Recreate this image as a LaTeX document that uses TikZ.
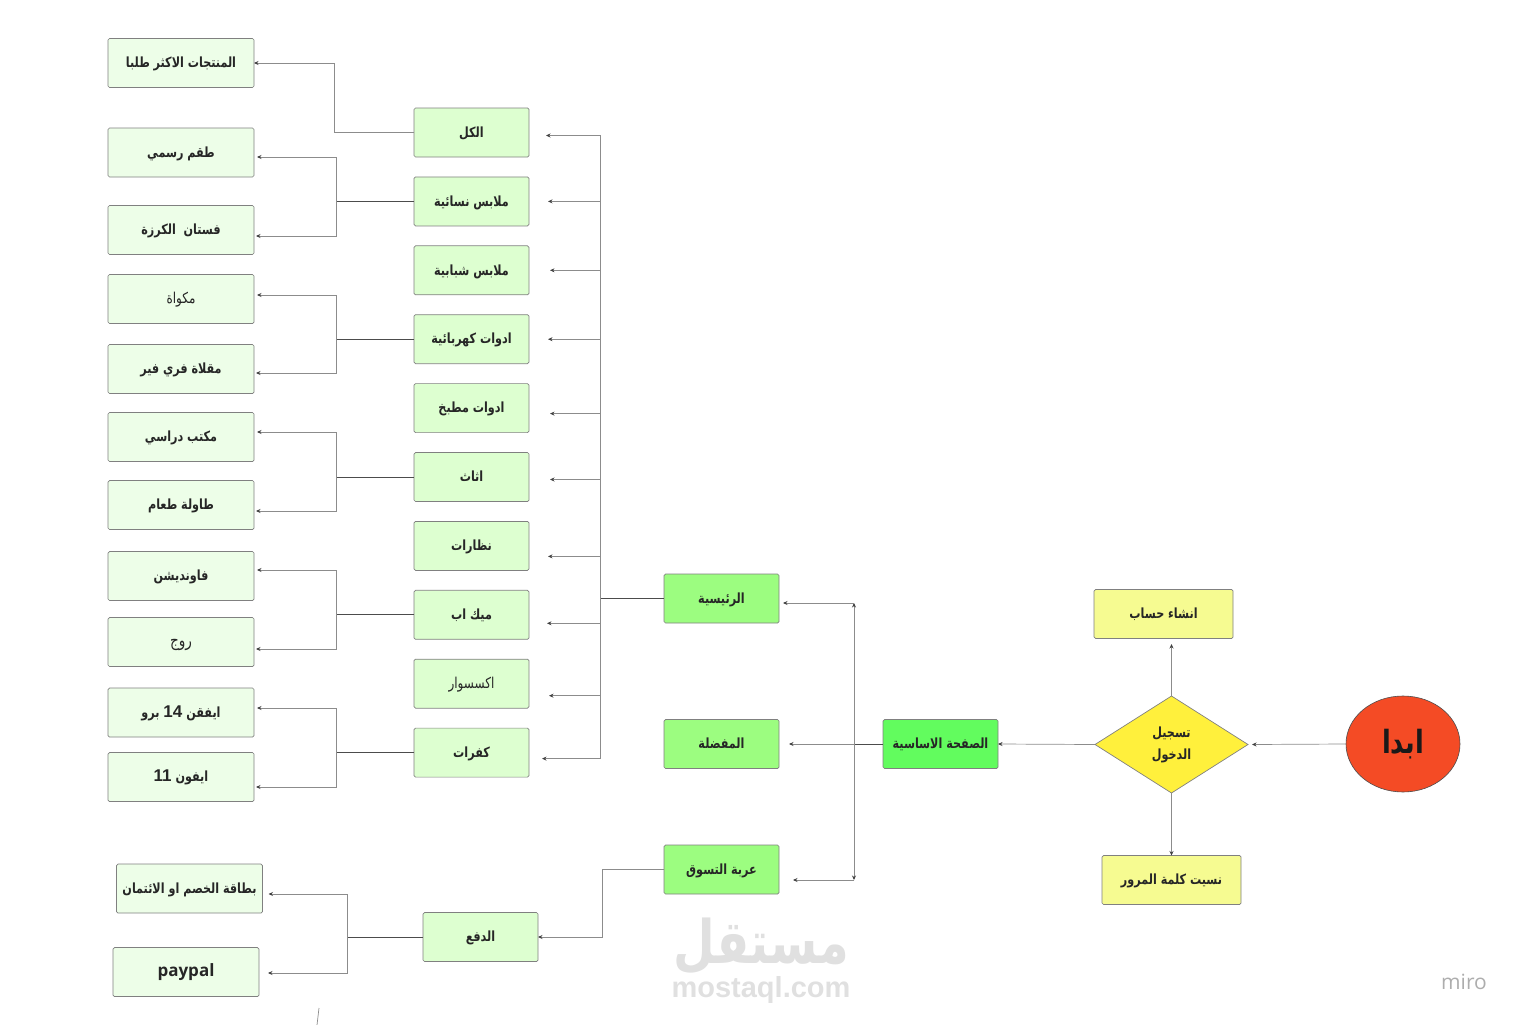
\documentclass[tikz,border=0pt]{standalone}
\usepackage{fontspec}
\setmainfont{Open Sans}
\newfontfamily\arabicfont[Script=Arabic, FakeStretch=0.8]{DejaVu Sans}
\newfontfamily\latinfont{Liberation Sans}
\TeXXeTstate=1
\newcommand{\ArText}[1]{{\arabicfont\beginR #1\endR}}
\newcommand{\ArNum}[1]{\beginL{\latinfont\fontsize{17}{20}\selectfont #1}\endL{}}
\usetikzlibrary{arrows.meta, positioning, shapes.geometric}

\begin{document}
\begin{tikzpicture}[x=1pt, y=-1pt]
		\tikzstyle{Box} = [rectangle, rounded corners=1.5pt, text centered, draw=black!50, line width=0.7pt, outer sep=0pt, inner sep=1pt, font=\bfseries\fontsize{14}{17}\selectfont, text=black!85]
		\tikzstyle{Flat} = [Box, minimum height=49pt, text height=11.5pt, text depth=2pt]
		\tikzstyle{Leaf} = [Flat, minimum width=146pt, fill=leafgreen]
		\tikzstyle{Cat} = [Flat, minimum width=115pt, fill=catgreen]
		\tikzstyle{Main} = [Flat, minimum width=115pt, fill=maingreen]
		\tikzstyle{Note} = [Flat, minimum width=139pt, fill=noteyellow]
		\tikzstyle{Thin} = [font=\fontsize{15}{18}\selectfont]
		\tikzstyle{line} = [line width=0.7pt, draw=black!45]
		\tikzstyle{stem} = [line width=0.8pt, draw=black!70]
		\tikzstyle{arrow} = [line width=0.7pt, draw=black!45, ->, >={Stealth[length=4.5pt, width=4pt, black!75]}]
		\definecolor{leafgreen}{HTML}{EDFEE8}
		\definecolor{catgreen}{HTML}{DDFFD0}
		\definecolor{maingreen}{HTML}{9CFD80}
		\definecolor{homegreen}{HTML}{62FC5E}
		\definecolor{noteyellow}{HTML}{F6FB91}
		\definecolor{signyellow}{HTML}{FFF03C}
		\definecolor{startred}{HTML}{F44B25}
		\useasboundingbox (0,0) rectangle (1524,1025);

		% watermarks
		\node (mark) [text=black!12, inner sep=0pt, font=\bfseries\fontsize{60}{62}\selectfont] at (761,946) {\ArText{مستقل}};
		\node (markurl) [text=black!12, inner sep=0pt, font=\latinfont\bfseries\fontsize{29}{31}\selectfont] at (761,990) {mostaql.com};
		\node (miro) [text=black!32, font=\fontsize{21}{24}\selectfont] at (1464,982) {miro};

		% categories
		\node (cat1) [Cat] at (471.5,132.5) {\ArText{الكل}};
		\node (cat2) [Cat, below = 19.9pt of cat1] {\ArText{ملابس نسائية}};
		\node (cat3) [Cat, below = 19.9pt of cat2] {\ArText{ملابس شبابية}};
		\node (cat4) [Cat, below = 19.9pt of cat3] {\ArText{ادوات كهربائية}};
		\node (cat5) [Cat, below = 19.9pt of cat4] {\ArText{ادوات مطبخ}};
		\node (cat6) [Cat, below = 19.9pt of cat5] {\ArText{اثاث}};
		\node (cat7) [Cat, below = 19.9pt of cat6] {\ArText{نظارات}};
		\node (cat8) [Cat, below = 19.9pt of cat7] {\ArText{ميك اب}};
		\node (cat9) [Cat, Thin, below = 19.9pt of cat8] {\ArText{اكسسوار}};
		\node (cat10) [Cat, below = 19.9pt of cat9] {\ArText{كفرات}};

		% products
		\node (leaf1) [Leaf] at (181,63) {\ArText{المنتجات الاكثر طلبا}};
		\node (leaf2) [Leaf] at (181,152.5) {\ArText{طقم رسمي}};
		\node (leaf3) [Leaf] at (181,230) {\ArText{فستان\ \ الكرزة}};
		\node (leaf4) [Leaf, Thin] at (181,299) {\ArText{مكواة}};
		\node (leaf5) [Leaf] at (181,369) {\ArText{مقلاة فري فير}};
		\node (leaf6) [Leaf] at (181,437) {\ArText{مكتب دراسي}};
		\node (leaf7) [Leaf] at (181,505) {\ArText{طاولة طعام}};
		\node (leaf8) [Leaf] at (181,576) {\ArText{فاونديشن}};
		\node (leaf9) [Leaf, font=\fontsize{17}{20}\selectfont] at (181,642) {\ArText{روج}};
		\node (leaf10) [Leaf] at (181,712.5) {\ArText{ايفقن \ArNum{14} برو}};
		\node (leaf11) [Leaf] at (181,777) {\ArText{ايفون \ArNum{11}}};
		\node (card) [Leaf] at (189.5,888.5) {\ArText{بطاقة الخصم او الائتمان}};
		\node (paypal) [Leaf, font=\bfseries\fontsize{17}{20}\selectfont] at (186,972) {paypal};

		% main pages
		\node (main1) [Main] at (721.5,598.5) {\ArText{الرئيسية}};
		\node (main2) [Main] at (721.5,744) {\ArText{المفضلة}};
		\node (main3) [Main] at (721.5,869.5) {\ArText{عربة التسوق}};
		\node (pay) [Cat] at (480.5,937) {\ArText{الدفع}};
		\node (home) [Main, fill=homegreen] at (940.5,744) {\ArText{الصفحة الاساسية}};

		% login
		\node (signup) [Note] at (1163.5,614) {\ArText{انشاء حساب}};
		\node (forgot) [Note] at (1171.5,880) {\ArText{نسيت كلمة المرور}};
		\node (login) [Box, diamond, aspect=1.58, minimum width=153pt, minimum height=97pt, inner sep=0pt, rounded corners=0pt, draw=black!50, fill=signyellow, align=center] at (1171.5,744.5) {\ArText{تسجيل}\\[5pt]\ArText{الدخول}};
		\node (start) [ellipse, minimum width=114pt, minimum height=96pt, inner sep=0pt, outer sep=0pt, draw=black!70, line width=0.6pt, fill=startred, text=black!90, font=\bfseries\fontsize{32}{34}\selectfont] at (1403,744) {\ArText{ابدا}};

		% bus points
		\coordinate (bus1) at ([xshift=-80pt]cat1.west);
		\coordinate (bus2) at ([xshift=-78pt]cat2.west);
		\coordinate (bus4) at ([xshift=-78pt]cat4.west);
		\coordinate (bus6) at ([xshift=-78pt]cat6.west);
		\coordinate (bus8) at ([xshift=-78pt]cat8.west);
		\coordinate (bus10) at ([xshift=-77.5pt]cat10.west);
		\coordinate (buspay) at ([xshift=-75.5pt]pay.west);
		\coordinate (trunk) at ([xshift=-64pt]main1.west);
		\coordinate (fork) at ([xshift=-29pt]home.west);
		\coordinate (forktop) at (fork |- 0,603);
		\coordinate (forkbot) at (fork |- 0,880);
		\coordinate (stray1) at (319,1008);
		\coordinate (stray2) at (317,1025);

		\draw [line] (cat1.west) -- (bus1);
		\draw [arrow] (bus1) |- (leaf1.east);
		\draw [stem] (cat2.west) -- (bus2);
		\draw [arrow] (bus2) |- ([xshift=3pt,yshift=-4.5pt]leaf2.east);
		\draw [arrow] (bus2) |- ([xshift=2pt,yshift=-6pt]leaf3.east);
		\draw [stem] (cat4.west) -- (bus4);
		\draw [arrow] (bus4) |- ([xshift=3pt,yshift=4pt]leaf4.east);
		\draw [arrow] (bus4) |- ([xshift=2pt,yshift=-4pt]leaf5.east);
		\draw [stem] (cat6.west) -- (bus6);
		\draw [arrow] (bus6) |- ([xshift=3pt,yshift=5pt]leaf6.east);
		\draw [arrow] (bus6) |- ([xshift=2pt,yshift=-6pt]leaf7.east);
		\draw [stem] (cat8.west) -- (bus8);
		\draw [arrow] (bus8) |- ([xshift=3pt,yshift=6pt]leaf8.east);
		\draw [arrow] (bus8) |- ([xshift=2pt,yshift=-7pt]leaf9.east);
		\draw [stem] (cat10.west) -- (bus10);
		\draw [arrow] (bus10) |- ([xshift=3pt,yshift=4.5pt]leaf10.east);
		\draw [arrow] (bus10) |- ([xshift=2pt,yshift=-10pt]leaf11.east);
		\draw [stem] (pay.west) -- (buspay);
		\draw [arrow] (buspay) |- ([xshift=6pt,yshift=-5.5pt]card.east);
		\draw [arrow] (buspay) |- ([xshift=9pt,yshift=-1pt]paypal.east);

		\draw [stem] (main1.west) -- (trunk);
		\draw [arrow] (trunk) |- ([xshift=17pt,yshift=-3pt]cat1.east);
		\draw [arrow] (trunk) |- ([xshift=19pt]cat2.east);
		\draw [arrow] (trunk) |- ([xshift=21pt]cat3.east);
		\draw [arrow] (trunk) |- ([xshift=19pt]cat4.east);
		\draw [arrow] (trunk) |- ([xshift=21pt,yshift=-5.5pt]cat5.east);
		\draw [arrow] (trunk) |- ([xshift=21pt,yshift=-2.5pt]cat6.east);
		\draw [arrow] (trunk) |- ([xshift=19pt,yshift=-10.5pt]cat7.east);
		\draw [arrow] (trunk) |- ([xshift=18pt,yshift=-8.5pt]cat8.east);
		\draw [arrow] (trunk) |- ([xshift=20pt,yshift=-12pt]cat9.east);
		\draw [arrow] (trunk) |- ([xshift=13pt,yshift=-6pt]cat10.east);

		\draw [arrow] (main3.west) -- ++(-62,0) |- (pay.east);

		\draw [stem] (home.west) -- (fork);
		\draw [arrow] (fork) -- (forktop);
		\draw [arrow] (fork) -- (forkbot);
		\draw [arrow] (forktop) -- ([xshift=4pt,yshift=-4.5pt]main1.east);
		\draw [arrow] (fork) -- ([xshift=10pt]main2.east);
		\draw [arrow] (forkbot) -- ([xshift=14pt,yshift=-10.5pt]main3.east);

		\draw [arrow] (start.west) -- ([xshift=4pt]login.east);
		\draw [arrow] (login.west) -- (home.east);
		\draw [arrow] (login.north) -- ([yshift=-5.5pt]signup.south -| login.north);
		\draw [arrow] (login.south) -- (forgot.north -| login.south);
		\draw [line] (stray1) -- (stray2);
\end{tikzpicture}
\end{document}
